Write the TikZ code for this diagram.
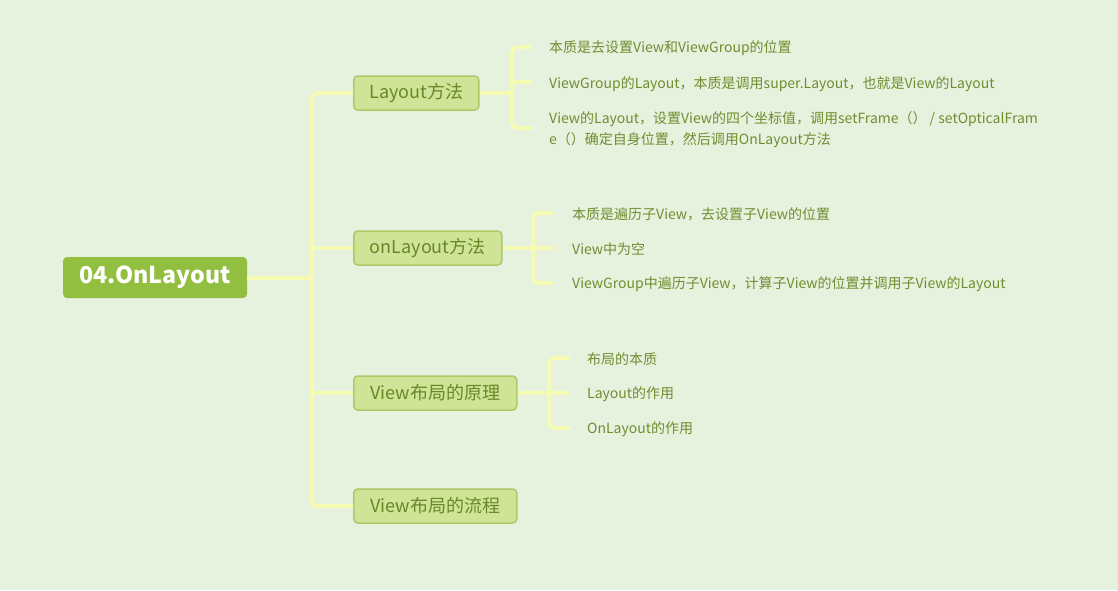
\documentclass[tikz,border=0pt]{standalone}
\usepackage{fontspec}
\setmainfont{Noto Sans CJK SC}
\definecolor{bg}{RGB}{230,241,222}
\definecolor{rootfill}{RGB}{147,191,64}
\definecolor{brfill}{RGB}{207,228,150}
\definecolor{brdraw}{RGB}{176,200,104}
\definecolor{brtext}{RGB}{104,136,40}
\definecolor{lftext}{RGB}{112,142,48}
\definecolor{conn}{RGB}{245,251,178}
\begin{document}
\begin{tikzpicture}[x=1pt,y=-1pt,
  rootbox/.style={fill=rootfill,rounded corners=4pt,text=white,font=\fontsize{23.2}{26}\selectfont\bfseries,minimum height=41pt,minimum width=184pt,inner sep=0pt},
  brbox/.style={fill=brfill,draw=brdraw,line width=1.5pt,rounded corners=4pt,text=brtext,font=\fontsize{18}{20}\selectfont,minimum height=34pt,inner sep=0pt,anchor=west},
  leaf/.style={text=lftext,font=\fontsize{14}{21}\selectfont,anchor=west,inner sep=0pt,align=left},
  link/.style={draw=conn,line width=4pt,rounded corners=6pt}]
\fill[bg] (0,0) rectangle (1118,590);
\useasboundingbox (0,0) rectangle (1118,590);

\node[rootbox] (root) at (155,277.5) {04.OnLayout};

\node[brbox,minimum width=125pt] (b1) at (353,93) {Layout方法};
\node[brbox,minimum width=148pt] (b2) at (353,248) {onLayout方法};
\node[brbox,minimum width=163pt] (b3) at (353,393) {View布局的原理};
\node[brbox,minimum width=163pt] (b4) at (353,506) {View布局的流程};

\coordinate (t0) at (312,277.5);
\coordinate (ttop) at (312,93);
\coordinate (tbot) at (312,506);

\draw[link] (root.east) -- (t0);
\draw[link] (b1.west) -- (ttop) -- (tbot) -- (b4.west);
\draw[link] (312,248) -- (b2.west);
\draw[link] (312,393) -- (b3.west);

% leaves of b1
\node[leaf] (l11) at (549,48) {本质是去设置View和ViewGroup的位置};
\node[leaf] (l12) at (549,84) {ViewGroup的Layout，本质是调用super.Layout，也就是View的Layout};
\node[leaf] (l13) at (549,129.5) {View的Layout，设置View的四个坐标值，调用setFrame（） / setOpticalFram\\e（）确定自身位置，然后调用OnLayout方法};
\coordinate (s1a) at (512,47);
\coordinate (s1m) at (512,93);
\coordinate (s1b) at (512,128);
\draw[link] (b1.east) -- (s1m);
\draw[link] (532,47) -- (s1a) -- (s1b) -- (532,128);
\draw[link] (s1m |- 0,82) -- (532,82);

% leaves of b2
\node[leaf] (l21) at (572,214) {本质是遍历子View，去设置子View的位置};
\node[leaf] (l22) at (572,249) {View中为空};
\node[leaf] (l23) at (572,284) {ViewGroup中遍历子View，计算子View的位置并调用子View的Layout};
\coordinate (s2a) at (533,213);
\coordinate (s2m) at (533,248);
\coordinate (s2b) at (533,283);
\draw[link] (b2.east) -- (s2m) -- (553,248);
\draw[link] (553,213) -- (s2a) -- (s2b) -- (553,283);

% leaves of b3
\node[leaf] (l31) at (587,359) {布局的本质};
\node[leaf] (l32) at (587,394) {Layout的作用};
\node[leaf] (l33) at (587,429) {OnLayout的作用};
\coordinate (s3a) at (549,358);
\coordinate (s3m) at (549,393);
\coordinate (s3b) at (549,428);
\draw[link] (b3.east) -- (s3m) -- (570,393);
\draw[link] (570,358) -- (s3a) -- (s3b) -- (570,428);
\end{tikzpicture}
\end{document}
